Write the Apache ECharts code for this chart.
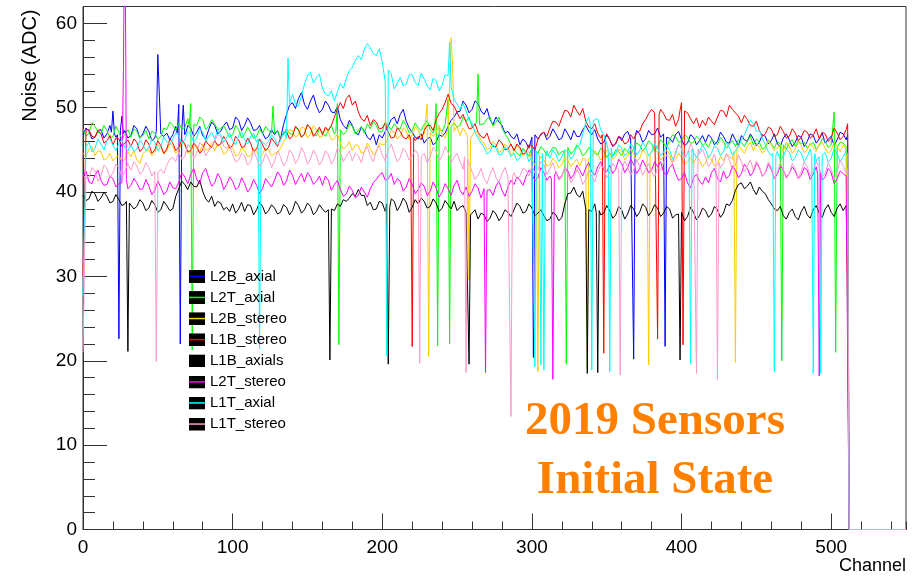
<!DOCTYPE html>
<html><head><meta charset="utf-8">
<script src="https://cdn.jsdelivr.net/npm/echarts@6/dist/echarts.min.js"></script>
<style>html,body{margin:0;padding:0;background:#fff}#c{width:924px;height:578px}</style>
</head><body><div id="c"></div>
<script>
// ---------- data ----------
const seriesNames = ['L2B_axial','L2T_axial','L2B_stereo','L1B_stereo','L1B_axials','L2T_stereo','L1T_axial','L1T_stereo'];
const seriesColors = ['#0000ff','#00ff00','#ffcc00','#ff0000','#000000','#ff00ff','#00ffff','#ff99cc'];
const xTicks = [0,100,200,300,400,500];
const yTicks = [0,10,20,30,40,50,60];
// readings: "base" at channels 0,4,...,508 ; "mid" at channels 2,6,...,510 ; "spikes" = [channel, value]

const L2B_axial_base = [
46.8,47.2,46.5,47.4,46.9,47.8,46.6,47.3, 46.7,47.5,46.9,47.2,46.4,47.6,47.0,46.8,
47.3,46.8,47.6,47.1,46.7,47.4,47.9,47.2, 48.3,47.6,48.5,47.9,48.2,47.4,47.0,46.6,
46.8,46.3,49.2,50.6,51.1,50.4,50.8,50.2, 49.8,50.3,49.4,48.6,47.5,47.9,46.8,47.3,
46.2,45.6,46.4,47.8,48.9,49.2,48.4,47.1, 46.3,45.8,46.5,45.9,46.6,47.8,48.9,49.6,
50.3,49.8,50.5,49.2,48.6,48.9,47.9,47.2, 46.3,45.6,45.9,46.8,46.3,47.1,46.6,46.9,
46.4,46.9,47.3,46.6,47.9,46.8,46.3,45.9, 46.2,45.7,46.1,47.2,46.5,46.9,46.3,46.8,
47.6,46.9,46.4,46.8,46.2,45.8,46.5,46.1, 45.9,46.4,46.0,46.6,45.8,46.2,46.7,46.0,
46.3,45.9,46.6,46.1,45.7,46.4,46.2,45.9, 46.5,46.0,46.7,46.3,45.8,46.6,46.2,46.9];
const L2B_axial_mid = [
47.6,46.3,47.3,46.4,47.9,46.5,47.7,46.4, 47.9,46.4,47.8,46.1,47.9,46.6,46.2,47.8,
46.4,47.9,46.6,47.8,46.3,48.3,46.9,47.9, 47.4,48.9,47.3,48.8,47.3,47.9,46.3,47.4,
47.3,48.0,50.3,49.9,51.8,49.8,51.5,49.4, 50.8,49.5,50.1,47.9,48.5,47.0,47.7,46.5,
46.9,46.8,47.2,48.6,48.1,49.8,47.6,46.5, 46.9,46.3,45.6,46.8,47.0,48.5,49.5,50.8,
49.4,50.8,49.6,49.9,48.0,48.3,47.0,46.6, 46.9,46.3,45.2,47.4,46.8,46.2,47.5,46.2,
47.5,46.2,46.6,47.4,47.2,47.4,45.7,46.8, 45.4,46.6,46.9,46.3,47.3,45.9,47.3,46.9,
46.5,47.4,45.9,47.2,45.5,46.8,45.6,46.7, 46.8,45.6,47.1,45.9,46.9,45.5,46.2,46.9,
45.5,46.8,45.7,46.9,45.4,46.9,45.4,46.7, 45.4,46.9,45.8,47.0,46.3,45.5,47.1,46.2];
const L2B_axial_spikes = [[19,47.1],[20,49.6],[21,46.9],[23,46.8],[24,22.6],[25,47.3],[26,49.0],[27,46.9],
[49,47.2],[50,56.3],[51,56.4],[52,46.9],[63,47.0],[64,50.4],[65,22.0],[66,47.3],[67,50.3],[69,47.2],
[300,46.5],[301,20.4],[302,46.8],[367,46.4],[368,20.2],[369,46.6],[388,46.9],[389,21.7],[390,46.5],
[511,46.8],[512,0],[550,0]];

const L2T_axial_base = [
47.5,47.0,47.8,46.9,47.3,46.6,47.1,46.8, 46.5,47.2,46.7,46.3,47.0,46.6,47.4,47.9,
48.2,47.6,48.4,47.9,48.6,47.8,48.1,47.5, 47.2,46.8,47.4,46.9,47.1,46.6,46.9,47.3,
47.0,46.4,47.5,46.8,47.3,46.9,47.6,46.7, 47.1,47.4,46.9,47.6,47.2,47.8,47.3,47.0,
47.5,47.9,47.2,47.8,48.1,47.5,47.9,47.3, 47.6,48.0,47.4,47.8,47.2,47.6,48.2,47.9,
48.4,47.7,48.6,48.1,48.9,48.3,47.6,46.4, 45.1,44.3,44.8,45.3,44.6,45.0,44.7,45.2,
44.8,45.3,44.9,45.1,44.6,45.0,44.4,44.9, 44.6,45.0,44.3,44.8,45.2,45.6,45.3,45.7,
45.4,45.8,46.2,46.6,46.1,46.5,45.9,46.3, 45.8,46.2,45.6,46.0,45.7,45.4,45.9,46.1,
45.6,45.9,45.3,45.7,46.0,45.5,45.8,45.4, 45.7,45.2,45.9,45.5,46.0,45.6,45.3,45.8];
const L2T_axial_mid = [
46.6,48.2,47.1,47.9,46.4,47.8,46.3,47.4, 47.5,46.4,47.3,47.2,46.2,47.6,48.3,47.3,
47.5,48.7,47.6,48.9,47.4,48.6,47.4,47.9, 46.5,47.9,46.4,47.7,46.4,47.5,47.8,46.6,
47.3,46.9,47.0,47.7,46.5,48.0,46.8,47.5, 46.6,47.9,47.3,46.8,48.1,46.9,47.8,48.1,
48.4,47.1,48.3,47.4,47.6,48.5,47.0,48.2, 47.3,48.5,47.0,48.3,48.0,47.4,47.7,48.9,
48.9,48.0,47.8,48.7,47.8,48.9,46.9,45.6, 44.6,45.2,44.2,45.0,45.4,44.3,45.3,44.4,
45.5,44.5,45.6,44.3,45.3,44.6,45.2,44.1, 44.2,44.8,45.2,44.4,45.8,44.9,46.1,44.9,
46.2,45.3,46.8,45.9,46.8,45.8,46.6,45.5, 45.3,46.0,46.5,45.2,46.1,46.2,45.4,46.6,
46.3,45.1,46.2,45.2,46.4,45.1,46.2,46.1, 45.9,45.6,45.1,46.3,45.3,46.1,45.9,45.4];
const L2T_axial_spikes = [[71,47.9],[72,50.5],[73,21.3],[74,48.0],[126,47.0],[127,50.2],[129,47.1],
[169,47.2],[170,50.5],[171,21.9],[172,47.4],[235,47.5],[236,50.5],[237,21.8],[238,47.6],
[243,47.9],[244,51.0],[245,22.0],[246,47.8],[263,48.3],[264,54.0],[265,48.0],
[322,44.9],[323,19.6],[466,45.7],[467,20.0],[468,45.6],[501,45.5],[502,49.5],[503,21.0],
[511,45.6],[512,0],[550,0]];

const L2B_stereo_base = [
44.6,45.1,44.3,44.8,44.0,43.7,44.4,43.9, 44.2,43.8,44.5,45.0,44.7,45.3,44.9,45.4,
45.0,45.6,44.8,45.2,45.7,45.1,44.9,45.4, 44.7,45.2,44.4,44.9,44.3,44.8,44.5,45.0,
44.6,45.2,46.5,47.3,46.8,47.6,46.9,47.4, 46.6,47.1,46.3,45.8,45.4,44.9,45.5,44.8,
45.2,44.7,45.6,46.5,47.1,46.6,47.3,46.8, 47.4,46.9,47.6,47.1,46.8,47.5,47.2,46.7,
47.0,46.5,46.9,45.8,45.2,45.6,44.9,45.3, 44.8,45.1,44.6,43.9,43.4,43.8,43.2,43.6,
43.3,43.8,43.5,43.1,43.7,44.2,44.5,44.1, 44.6,44.2,44.8,44.3,44.5,44.0,44.6,44.3,
44.7,44.2,44.5,43.9,44.1,43.6,43.4,43.8, 43.5,43.9,43.3,43.7,44.2,44.8,45.1,45.4,
44.9,45.3,45.0,45.6,45.2,44.8,45.4,45.1, 45.5,45.0,45.3,45.7,45.2,44.9,45.4,45.6];
const L2B_stereo_mid = [
44.2,45.4,44.9,43.8,44.6,44.1,43.6,44.8, 44.9,43.4,44.9,44.3,45.6,44.5,45.8,44.6,
45.9,44.6,45.6,44.7,45.0,45.8,45.7,44.5, 45.6,44.3,45.3,44.2,45.2,44.1,45.2,44.3,
44.7,45.9,47.4,46.5,47.7,46.4,47.9,46.5, 47.6,46.2,46.9,45.1,46.0,45.6,44.6,45.8,
44.4,45.8,45.7,47.3,46.3,47.6,46.2,47.7, 46.5,47.8,46.6,47.9,46.4,46.6,47.8,47.6,
46.3,47.3,46.1,45.0,46.0,44.7,45.7,44.4, 45.5,44.3,44.8,43.2,44.2,43.1,44.0,42.9,
44.1,43.0,43.9,44.0,43.2,44.9,43.8,45.0, 43.9,45.1,43.8,45.1,43.7,45.0,43.8,45.2,
43.8,45.0,43.6,44.6,43.3,44.1,44.2,43.0, 44.3,43.1,44.2,44.5,43.9,45.6,44.6,45.9,
45.8,44.6,46.1,44.9,45.6,45.9,44.6,45.9, 44.7,45.8,44.8,45.9,44.6,45.9,44.8,45.1];
const L2B_stereo_spikes = [[229,47.0],[230,50.4],[231,20.5],[232,47.1],[245,53.0],[246,58.3],[247,55.0],[249,47.4],
[257,46.5],[258,29.6],[259,46.3],[303,43.6],[304,18.7],[305,43.8],[336,43.9],[337,19.0],[338,44.0],
[377,44.3],[378,19.5],[379,44.5],[435,44.8],[436,19.8],[437,45.2],[511,45.3],[512,0],[550,0]];

const L1B_stereo_base = [
46.8,47.4,46.5,46.9,46.1,45.6,46.3,45.8, 45.4,45.9,45.2,45.7,45.0,45.5,45.1,45.8,
45.3,45.7,44.9,45.4,45.0,45.6,46.1,45.7, 46.0,45.5,46.2,45.4,45.8,45.1,45.6,45.3,
45.9,46.4,47.2,46.6,47.4,46.9,47.6,47.1, 46.8,47.3,48.9,50.6,51.1,50.3,49.5,48.4,
47.9,48.3,47.6,47.1,46.5,47.2,46.3,45.9, 46.6,47.3,47.9,48.6,49.8,51.6,50.2,48.7,
48.3,47.6,47.1,46.4,45.9,45.4,45.8,45.1, 44.9,45.3,44.7,45.5,46.2,47.1,47.6,48.3,
48.8,49.6,50.3,49.1,48.4,47.5,47.0,46.6, 46.2,45.8,46.4,45.9,46.3,47.2,48.6,49.8,
50.1,49.3,48.5,47.8,48.3,49.4,48.1,47.6, 47.9,48.4,48.9,49.6,50.3,49.4,48.2,48.6,
47.8,47.3,46.9,47.5,46.8,47.2,46.6,47.0, 46.5,47.1,46.7,46.3,46.9,46.4,47.0,46.6];
const L1B_stereo_mid = [
47.8,46.6,47.3,45.8,46.7,46.4,45.4,46.2, 46.3,44.8,46.2,44.6,46.1,44.6,46.3,44.9,
46.2,44.8,45.8,44.6,46.1,45.3,45.5,46.6, 45.2,46.6,45.3,46.4,44.8,46.3,44.9,46.4,
45.4,46.9,46.3,47.8,46.5,48.0,46.6,47.7, 47.7,47.9,49.8,49.9,51.5,50.8,48.7,49.1,
48.6,47.5,48.2,46.4,47.6,46.5,46.8,46.1, 46.2,47.9,47.3,49.3,50.6,50.5,49.4,49.2,
47.5,48.1,46.6,47.0,45.4,46.2,45.0,45.7, 45.7,44.5,45.6,45.0,46.9,46.6,48.4,47.8,
49.7,48.9,49.6,49.9,47.7,48.1,46.4,46.9, 45.5,46.6,45.7,46.8,47.0,48.1,49.3,49.4,
49.8,48.6,49.2,48.6,47.6,48.7,48.8,48.5, 48.9,48.0,49.7,48.9,49.8,49.0,49.1,47.9,
48.4,46.6,47.7,46.6,47.8,46.4,47.5,46.1, 47.3,46.4,47.5,47.1,46.0,47.6,46.2,47.4];
const L1B_stereo_spikes = [[0,30.0],[2,47.4],[219,46.2],[220,21.7],[221,46.5],[347,46.8],[348,20.9],[349,46.4],
[383,49.5],[384,22.6],[385,49.2],[399,49.7],[400,50.6],[401,21.9],[402,49.6],[511,48.1],[512,0],[550,0]];

const L1B_axials_base = [
39.6,39.2,39.8,39.3,39.5,38.9,39.1,38.6, 38.8,38.3,38.7,38.1,38.5,37.9,38.4,38.0,
40.4,40.9,41.2,40.6,40.1,38.8,38.3,38.7, 38.2,38.6,38.0,37.7,38.4,37.9,38.3,37.8,
38.1,37.6,38.2,37.8,38.4,37.9,38.3,37.7, 38.0,38.4,37.8,38.3,38.9,39.8,40.3,39.6,
38.8,38.0,38.7,38.3,38.9,38.4,38.8,38.2, 38.6,38.9,38.3,38.7,38.1,38.5,38.9,38.2,
37.6,37.2,36.8,37.3,36.9,37.4,37.1,37.6, 37.9,38.3,37.7,38.1,37.5,37.2,36.8,37.3,
37.0,39.8,40.6,39.4,38.1,37.7,38.0,37.5, 37.8,37.3,37.9,37.4,38.0,37.6,38.2,37.7,
38.1,37.5,38.0,37.3,37.8,37.1,37.6,37.2, 37.8,37.4,37.9,37.5,38.4,40.2,41.1,40.7,
40.3,40.6,39.8,38.6,37.8,37.2,37.6,37.1, 37.7,37.3,37.9,37.5,38.0,37.6,38.1,37.8];
const L1B_axials_mid = [
39.0,40.1,38.9,40.0,38.7,39.7,38.4,39.3, 38.0,39.1,37.8,39.0,37.6,38.9,37.8,39.5,
41.3,40.3,40.7,41.4,39.2,39.5,38.9,37.9, 37.7,37.5,38.8,38.5,37.3,38.8,37.4,38.5,
37.4,38.5,37.3,38.9,37.5,38.7,37.3,38.5, 37.6,38.9,38.6,39.1,39.3,39.5,39.6,38.4,
37.9,38.9,37.7,39.2,37.8,39.3,37.6,39.1, 39.3,38.1,39.2,37.7,39.0,38.0,37.8,38.4,
36.8,37.9,37.5,36.5,37.8,36.6,37.9,37.1, 38.7,37.5,38.6,37.2,37.9,36.6,37.6,36.6,
38.6,39.9,39.7,40.1,37.4,38.6,37.3,38.4, 36.9,38.3,36.8,38.4,37.1,38.6,37.2,38.5,
37.1,38.3,36.9,38.1,36.6,38.2,36.7,38.1, 37.0,38.3,37.0,38.6,39.0,40.9,40.4,41.2,
39.7,40.1,39.1,38.0,38.3,36.8,38.0,36.7, 38.3,36.9,38.4,37.0,38.5,37.1,38.6,38.4];
const L1B_axials_spikes = [[29,38.9],[30,21.1],[31,38.7],[164,37.9],[165,20.1],[166,38.0],[203,38.6],[204,19.6],[205,38.2],
[257,37.4],[258,19.6],[259,37.3],[336,38.0],[337,18.5],[338,37.9],[343,37.6],[344,18.6],[345,37.8],
[398,37.4],[399,20.1],[400,37.6],[511,29.0],[512,0],[550,0]];

const L2T_stereo_base = [
41.8,41.2,42.0,41.4,40.9,41.6,41.0,41.3, 40.8,41.1,40.4,40.7,40.2,40.6,40.1,40.5,
41.2,41.8,42.1,41.5,42.3,41.7,41.1,41.6, 40.9,41.3,40.6,41.0,40.5,40.8,40.4,41.1,
41.4,41.9,41.3,42.0,41.6,41.2,41.8,41.3, 40.8,41.4,40.9,40.3,39.8,40.2,39.6,40.0,
40.4,41.5,42.3,41.6,40.9,41.3,40.6,40.9, 40.3,40.7,40.1,40.5,40.0,40.4,40.8,40.2,
40.6,40.1,40.5,39.9,40.3,40.7,40.2,40.6, 40.9,41.4,41.8,42.2,41.7,42.3,41.9,42.4,
41.9,42.5,42.1,42.6,42.9,42.4,43.0,42.6, 43.2,42.7,43.4,42.9,43.3,42.8,43.1,42.6,
43.0,42.4,42.9,42.2,41.6,41.1,41.7,41.3, 41.8,42.3,41.6,42.5,42.0,42.6,42.2,42.8,
42.4,42.9,42.3,42.7,42.1,42.6,42.2,42.5, 42.0,42.6,42.1,42.5,41.8,42.3,41.6,42.2];
const L2T_stereo_mid = [
42.5,41.0,42.6,40.8,41.9,40.6,42.0,40.4, 41.6,40.3,41.5,39.7,41.3,39.7,41.2,40.4,
42.3,41.0,42.8,41.0,42.8,40.7,42.2,40.3, 41.8,40.3,41.7,40.0,41.5,39.8,41.6,40.6,
42.4,40.8,42.6,40.9,42.2,42.3,40.9,41.9, 41.9,40.2,41.4,39.5,40.7,39.3,40.6,39.4,
41.1,42.0,41.4,42.2,41.6,40.1,41.6,39.8, 41.1,39.6,41.2,39.4,41.0,39.6,41.4,39.7,
39.5,41.0,39.3,40.9,39.6,41.3,39.5,41.4, 41.8,40.8,42.6,41.3,42.9,41.4,42.9,41.6,
42.9,41.6,43.2,41.9,43.5,42.0,43.6,42.4, 42.2,43.9,42.3,43.9,42.2,43.8,42.3,43.6,
43.6,42.0,43.3,41.4,42.3,40.5,42.1,40.9, 41.1,42.8,41.2,41.6,43.1,41.7,43.3,41.9,
43.4,41.9,43.3,41.6,43.1,41.8,43.0,41.6, 42.9,41.5,43.0,41.4,42.8,41.0,42.5,41.9];
const L2T_stereo_spikes = [[26,41.1],[27,54.4],[28,75],[29,41.5],[268,40.4],[269,18.6],[270,40.2],
[313,41.6],[314,17.8],[315,41.9],[491,42.1],[492,18.2],[493,42.3],[511,42.0],[512,0],[550,0]];

const L1T_axial_base = [
45.4,45.9,45.2,45.7,46.1,45.5,45.8,45.3, 45.6,45.1,45.7,45.3,45.9,45.4,46.0,46.3,
46.7,46.2,46.9,46.4,47.1,46.6,46.3,46.8, 46.5,46.1,46.7,46.2,46.6,45.9,46.3,46.0,
46.4,46.1,50.8,51.6,50.2,52.8,54.2,53.6, 52.3,51.4,50.8,52.9,53.5,54.8,56.2,56.9,
57.1,56.2,55.4,53.0,52.2,53.6,52.8,53.9, 52.6,53.4,52.1,53.2,52.7,53.8,51.0,49.8,
49.6,48.2,46.4,45.3,44.8,45.2,44.5,45.0, 44.6,44.1,44.7,44.3,44.9,44.4,44.0,44.5,
44.2,44.8,44.4,45.6,48.2,49.3,48.7,46.8, 45.1,44.6,45.2,44.7,45.4,44.9,45.3,44.8,
45.2,44.7,45.0,44.5,45.1,44.6,45.3,44.8, 45.0,44.6,45.2,44.8,45.3,44.9,46.2,47.6,
48.1,47.3,45.6,44.3,44.8,44.2,44.7,44.1, 44.6,44.2,44.8,44.3,44.7,44.0,44.5,44.2];
const L1T_axial_mid = [
46.2,44.8,46.3,45.0,46.4,44.9,46.2,44.9, 44.8,46.1,44.9,46.3,44.9,46.5,45.6,47.0,
45.8,47.2,45.9,47.6,46.0,47.1,47.3,45.9, 47.0,45.6,47.2,45.7,47.0,46.7,45.6,46.8,
45.6,47.2,52.1,50.4,51.4,53.8,52.9,54.0, 51.6,52.0,51.9,52.3,54.4,55.6,55.7,57.6,
56.4,57.0,54.2,54.0,52.9,52.6,53.9,53.0, 54.1,52.6,53.5,52.0,53.9,52.4,50.4,50.5,
48.6,47.1,45.8,44.5,45.6,44.4,45.3,44.2, 43.7,45.0,43.6,45.2,43.9,44.9,45.0,43.6,
45.0,43.9,45.4,46.9,48.9,48.4,47.4,45.7, 44.2,45.6,44.3,45.7,44.4,45.9,44.3,45.8,
44.3,45.6,43.9,45.7,44.0,45.8,44.1,45.6, 44.1,45.5,44.3,45.9,44.4,45.4,46.8,48.5,
47.2,46.4,44.8,45.3,43.8,45.1,43.7,45.0, 43.6,45.1,43.7,45.3,43.5,45.2,43.6,44.9];
const L1T_axial_spikes = [[0,27.6],[2,45.4],[117,46.3],[118,21.4],[119,46.1],[136,46.4],[137,55.9],[138,50.5],
[202,53.0],[203,20.6],[204,54.5],[244,53.8],[245,57.8],[246,52.5],
[301,44.5],[302,19.3],[303,44.8],[305,44.3],[306,19.5],[307,44.6],[308,18.9],[309,44.2],
[339,48.0],[340,18.9],[341,48.5],[351,45.0],[352,18.7],[353,45.2],[405,44.9],[406,19.7],[407,45.1],
[461,44.6],[462,18.7],[463,44.4],[487,44.3],[488,18.5],[489,44.6],[492,44.2],[493,18.5],[494,44.4],
[511,44.4],[512,0],[550,0]];

const L1T_stereo_base = [
42.2,41.7,42.5,41.9,42.8,42.3,42.9,42.4, 42.6,43.1,42.5,42.9,42.3,42.7,43.2,44.1,
44.8,44.2,45.3,44.6,45.5,44.9,46.0,46.6, 45.2,44.4,43.8,44.3,43.6,44.1,43.5,44.0,
43.7,44.2,43.6,44.5,44.0,44.6,43.9,44.3, 43.8,44.4,44.0,44.7,44.2,43.7,44.3,44.8,
44.3,44.9,44.4,45.0,44.6,44.1,44.7,44.3, 44.0,44.6,44.2,44.8,44.3,44.7,44.1,43.6,
42.9,42.4,42.0,41.6,42.1,41.7,42.2,41.8, 42.3,41.9,42.6,43.1,42.7,43.2,42.8,42.3,
41.8,42.2,41.6,42.0,41.5,41.9,42.4,42.8, 42.3,42.9,42.5,43.0,42.6,43.1,42.7,42.4,
42.9,43.5,44.1,44.8,45.2,44.6,45.0,44.5, 44.1,43.6,44.0,43.4,43.8,43.2,43.6,43.1,
42.6,43.0,42.4,42.9,42.3,42.7,42.2,42.8, 42.4,43.0,42.5,42.9,42.2,42.7,42.3,43.1];
const L1T_stereo_mid = [
41.4,42.9,41.3,43.2,41.7,43.3,41.8,43.4, 43.6,42.1,43.5,41.9,43.4,42.2,43.9,43.6,
43.9,45.6,44.0,45.9,44.3,45.4,46.8,45.4, 45.6,43.6,44.6,43.2,44.9,43.1,44.6,42.9,
44.9,43.1,45.0,43.4,45.3,43.3,45.0,43.2, 44.9,43.3,45.2,43.6,44.9,44.6,43.5,45.4,
43.6,45.5,43.7,45.7,43.6,45.2,43.8,45.0, 45.2,43.5,45.3,43.7,45.4,43.5,44.6,42.7,
43.4,41.5,42.8,41.0,42.9,41.1,42.9,41.2, 41.5,42.8,41.9,42.3,43.6,42.1,43.5,41.4,
42.9,41.1,42.7,40.9,42.6,41.2,43.2,41.7, 43.4,41.9,43.7,42.0,43.8,42.0,43.4,41.8,
42.6,44.4,43.4,45.6,44.2,45.7,44.0,45.1, 43.0,44.5,42.9,44.6,42.7,44.4,42.4,43.8,
43.7,41.8,43.6,41.7,43.5,41.6,43.4,41.7, 43.6,41.9,43.7,41.8,43.5,41.6,43.8,42.3];
const L1T_stereo_spikes = [[0,21.0],[2,42.0],[48,42.5],[49,19.9],[50,42.3],[224,44.5],[225,19.7],[226,44.2],
[255,44.2],[256,18.6],[257,43.9],[285,41.9],[286,13.4],[287,41.8],[358,42.7],[359,18.3],[360,42.5],
[409,44.9],[410,18.5],[411,45.1],[423,43.7],[424,17.8],[425,43.5],[511,42.8],[512,0],[550,0]];

const seriesBases  = [L2B_axial_base,L2T_axial_base,L2B_stereo_base,L1B_stereo_base,L1B_axials_base,L2T_stereo_base,L1T_axial_base,L1T_stereo_base];
const seriesMids   = [L2B_axial_mid,L2T_axial_mid,L2B_stereo_mid,L1B_stereo_mid,L1B_axials_mid,L2T_stereo_mid,L1T_axial_mid,L1T_stereo_mid];
const seriesSpikes = [L2B_axial_spikes,L2T_axial_spikes,L2B_stereo_spikes,L1B_stereo_spikes,L1B_axials_spikes,L2T_stereo_spikes,L1T_axial_spikes,L1T_stereo_spikes];

// ---------- build ----------
function buildData(base, mid, spikes){
  const m = new Map();
  base.forEach((v,i)=>m.set(i*4, v));
  mid.forEach((v,i)=>m.set(i*4+2, v));
  spikes.forEach(([c,v])=>m.set(c, v));
  return [...m.keys()].sort((a,b)=>a-b).map(k=>[k, m.get(k)]);
}
function legendIcon(color){
  const svg = '<svg xmlns="http://www.w3.org/2000/svg" width="16" height="13"><rect width="16" height="13" fill="#000"/><rect y="5.6" width="16" height="1.5" fill="'+color+'"/></svg>';
  return 'image://data:image/svg+xml;charset=utf-8,' + encodeURIComponent(svg);
}
const FONT = 'Liberation Sans';
const AX = '#333';
const chart = echarts.init(document.getElementById('c'), null, {renderer:'canvas'});
const gridRect = {left:83, top:6.5, width:823, height:523};
chart.setOption({
  animation:false,
  backgroundColor:'#fff',
  grid:[Object.assign({show:true, borderColor:AX, borderWidth:1, backgroundColor:'transparent', outerBoundsMode:'none'}, gridRect),
        Object.assign({show:false, outerBoundsMode:'none'}, gridRect)],
  legend:{
    orient:'vertical', left:189, top:269, padding:0, itemWidth:16, itemHeight:13, itemGap:6.1,
    selectedMode:false,
    textStyle:{fontFamily:FONT, fontSize:15, color:'#000', lineHeight:15},
    data: seriesNames.map((n,i)=>({name:n, icon:legendIcon(seriesColors[i])}))
  },
  xAxis:[{
    type:'value', gridIndex:0, min:0, max:550, interval:100, position:'bottom',
    name:'Channel', nameLocation:'end', nameGap:0, nameMoveOverlap:false,
    nameTextStyle:{fontFamily:FONT, fontSize:18, color:'#000', align:'right', verticalAlign:'top', padding:[28,0,0,0]},
    axisLine:{show:true, lineStyle:{color:AX, width:1}},
    axisTick:{show:true, inside:true, length:16, lineStyle:{color:AX}},
    axisLabel:{show:true, margin:9, fontFamily:FONT, fontSize:19, color:'#000', showMaxLabel:false,
      formatter:v=> xTicks.includes(v) ? String(v) : ''},
    splitLine:{show:false}
  },{
    type:'value', gridIndex:1, min:0, max:550, interval:20, position:'bottom',
    axisLine:{show:false}, axisTick:{show:true, inside:true, length:8, lineStyle:{color:AX}},
    axisLabel:{show:false}, splitLine:{show:false}
  }],
  yAxis:[{
    type:'value', gridIndex:0, min:0, max:62, interval:10, position:'left',
    name:'Noise (ADC)', nameLocation:'end', nameRotate:90, nameGap:-3, nameMoveOverlap:false,
    nameTextStyle:{fontFamily:FONT, fontSize:20, color:'#000', align:'right', verticalAlign:'bottom', padding:[0,0,43,0]},
    axisLine:{show:true, lineStyle:{color:AX, width:1}},
    axisTick:{show:true, inside:true, length:24, lineStyle:{color:AX}},
    axisLabel:{show:true, margin:6, fontFamily:FONT, fontSize:19, color:'#000', showMaxLabel:false,
      formatter:v=> yTicks.includes(v) ? String(v) : ''},
    splitLine:{show:false}
  },{
    type:'value', gridIndex:1, min:0, max:62, interval:2, position:'left',
    axisLine:{show:false}, axisTick:{show:true, inside:true, length:12, lineStyle:{color:AX}},
    axisLabel:{show:false}, splitLine:{show:false}
  }],
  graphic:[
    {type:'text', x:655, y:398.5, style:{text:'2019 Sensors', font:'bold 47px "Liberation Serif"', fill:'#ff8000', textAlign:'center', textVerticalAlign:'top'}},
    {type:'text', x:655, y:457.5, style:{text:'Initial State', font:'bold 47px "Liberation Serif"', fill:'#ff8000', textAlign:'center', textVerticalAlign:'top'}}
  ],
  series: seriesNames.map((n,i)=>({
    name:n, type:'line', xAxisIndex:0, yAxisIndex:0,
    data: buildData(seriesBases[i], seriesMids[i], seriesSpikes[i]),
    showSymbol:false, symbol:'none', clip:true,
    lineStyle:{color:seriesColors[i], width:1}, itemStyle:{color:seriesColors[i]},
    emphasis:{disabled:true}, z:2+i*0.01
  }))
});
</script></body></html>
